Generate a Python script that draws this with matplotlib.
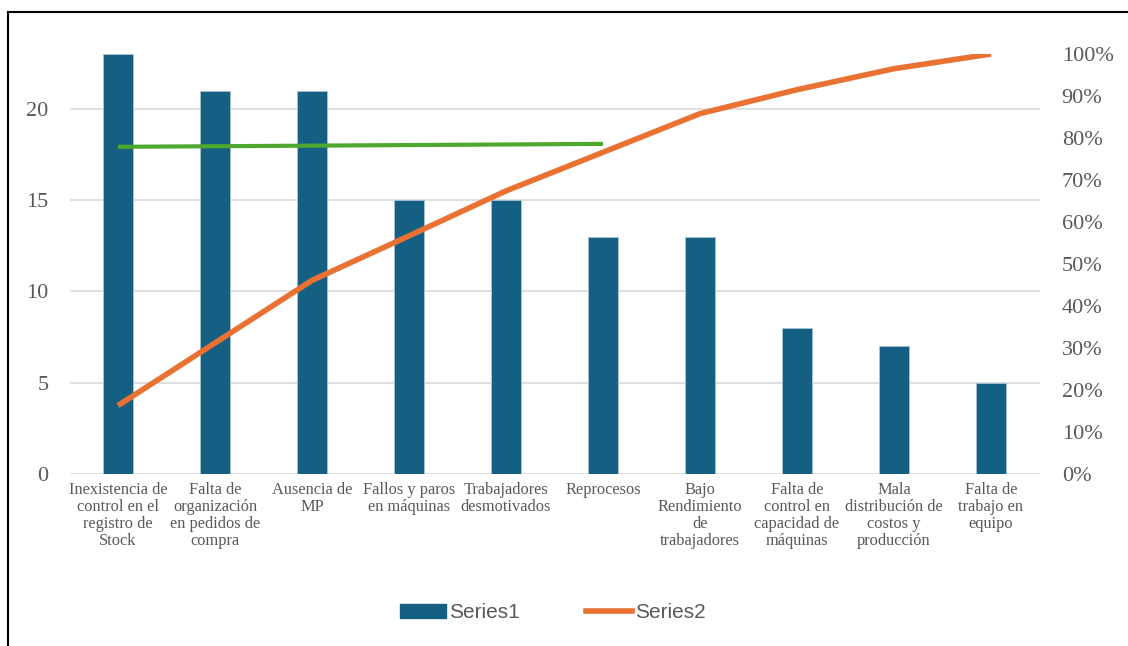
import numpy as np
import matplotlib.pyplot as plt
from matplotlib.lines import Line2D

# Data
categories = ['Inexistencia de\ncontrol en el\nregistro de\nStock',
              'Falta de\norganización\nen pedidos de\ncompra',
              'Ausencia de\nMP',
              'Fallos y paros\nen máquinas',
              'Trabajadores\ndesmotivados',
              'Reprocesos',
              'Bajo\nRendimiento\nde\ntrabajadores',
              'Falta de\ncontrol en\ncapacidad de\nmáquinas',
              'Mala\ndistribución de\ncostos y\nproducción',
              'Falta de\ntrabajo en\nequipo']
series1 = [23, 21, 21, 15, 15, 13, 13, 8, 7, 5]
series2 = [0.163, 0.312, 0.461, 0.567, 0.674, 0.766, 0.858, 0.915, 0.965, 1.0]
green_x = [0, 5]
green_y = [0.779, 0.786]
left_ticks = [0, 5, 10, 15, 20]
right_ticks = [0.0, 0.1, 0.2, 0.3, 0.4, 0.5, 0.6, 0.7, 0.8, 0.9, 1.0]

BAR = '#156082'
ORANGE = '#E97132'
GREEN = '#4EA72E'
GRAY = '#595959'
SERIF = 'Liberation Serif'

W, H = 1128, 646
fig = plt.figure(figsize=(W / 100, H / 100), dpi=100)

# outer border (cropped box)
fig.add_artist(Line2D([8 / W, 1], [1 - 12 / H, 1 - 12 / H], color='black', lw=1.5))
fig.add_artist(Line2D([8 / W, 8 / W], [0, 1 - 12 / H], color='black', lw=1.5))

ax = fig.add_axes([69.5 / W, (H - 474) / H, 970 / W, 420 / H])
x = np.arange(len(categories))
bars = ax.bar(x, series1, width=0.31, color=BAR, edgecolor='#a9c4d4', linewidth=0.6, zorder=2)
ax.set_xlim(-0.5, len(categories) - 0.5)
ax.set_ylim(0, 23)
ax.set_yticks(left_ticks)
ax.set_yticklabels([str(t) for t in left_ticks], fontfamily=SERIF, fontsize=16, color=GRAY)
ax.set_xticks(x)
ax.set_xticklabels(categories, fontfamily=SERIF, fontsize=11.8, color=GRAY, linespacing=1.08)
ax.tick_params(axis='both', length=0)
ax.tick_params(axis='y', pad=15)
ax.tick_params(axis='x', pad=6)
ax.grid(axis='y', color='#d9d9d9', lw=1.2, zorder=0)
ax.set_axisbelow(True)
for s in ax.spines.values():
    s.set_visible(False)

ax2 = ax.twinx()
ax2.plot(x, series2, color=ORANGE, lw=4, solid_capstyle='butt', zorder=3)
ax2.plot(green_x, green_y, color=GREEN, lw=3, solid_capstyle='butt', zorder=4)
ax2.set_ylim(0, 1)
ax2.set_yticks(right_ticks)
ax2.set_yticklabels(['%d%%' % round(t * 100) for t in right_ticks], fontfamily=SERIF, fontsize=16, color=GRAY)
ax2.tick_params(axis='y', length=0, pad=16)
for s in ax2.spines.values():
    s.set_visible(False)

handles = [plt.Rectangle((0, 0), 1, 1, color=BAR),
           Line2D([], [], color=ORANGE, lw=4)]
fig.legend(handles, ['Series1', 'Series2'], loc='center', ncol=2,
           bbox_to_anchor=(553 / W, 1 - 613 / H), frameon=False,
           prop={'family': 'Liberation Sans', 'size': 15}, labelcolor=GRAY,
           handlelength=2.2, handleheight=0.65, handletextpad=0.15, columnspacing=3.2)

fig.savefig('out.png', dpi=100)
